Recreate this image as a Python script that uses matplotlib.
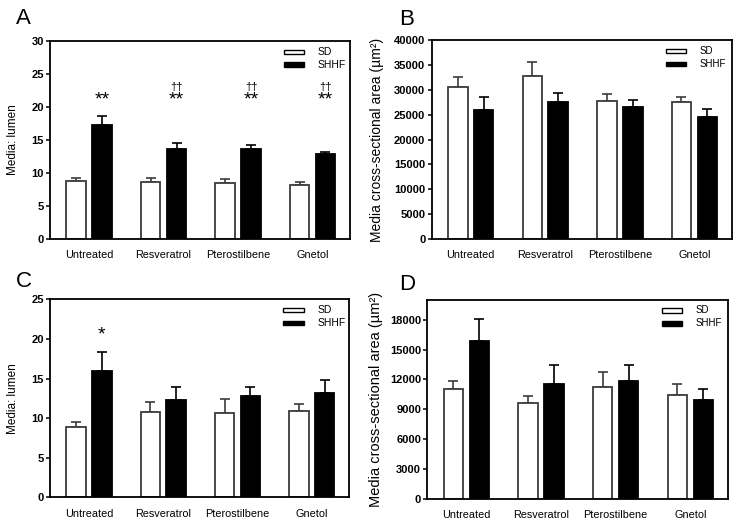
import numpy as np
import matplotlib
matplotlib.use("Agg")
import matplotlib.pyplot as plt
from matplotlib.patches import Rectangle

plt.rcParams['font.family'] = ['Liberation Sans', 'DejaVu Sans']

groups = ["Untreated", "Resveratrol", "Pterostilbene", "Gnetol"]

# panel A - media:lumen
a_sd = [8.8, 8.65, 8.55, 8.25]
a_sd_err = [0.5, 0.65, 0.5, 0.35]
a_shhf = [17.35, 13.7, 13.65, 12.95]
a_shhf_err = [1.25, 0.85, 0.55, 0.3]
a_stars = ["**", "**", "**", "**"]
a_daggers = ["", "††", "††", "††"]

# panel B - media CSA
b_sd = [30500, 32850, 27800, 27500]
b_sd_err = [2000, 2750, 1350, 1000]
b_shhf = [26000, 27600, 26550, 24450]
b_shhf_err = [2600, 1750, 1300, 1700]

# panel C - media:lumen
c_sd = [8.9, 10.75, 10.65, 10.85]
c_sd_err = [0.6, 1.3, 1.75, 0.95]
c_shhf = [15.9, 12.3, 12.75, 13.15]
c_shhf_err = [2.4, 1.7, 1.15, 1.65]
c_stars = ["*", "", "", ""]

# panel D - media CSA
d_sd = [11050, 9650, 11220, 10480]
d_sd_err = [800, 700, 1540, 1070]
d_shhf = [15870, 11550, 11850, 9950]
d_shhf_err = [2240, 1870, 1600, 1100]

w = 0.262
off = 0.174
x = np.arange(len(groups))
gray = '#3c3c3c'

fig = plt.figure(figsize=(7.39, 5.26), dpi=100)


def panel(rect, sd, sde, shhf, shhfe, ylim, yticks, ylabel, labx, lab_fs, leg_fs):
    ax = fig.add_axes(rect)
    ax.bar(x - off, sd, w, color='white', edgecolor=gray, linewidth=1.3, zorder=2)
    ax.bar(x + off, shhf, w, color='black', edgecolor='black', linewidth=1.3, zorder=2)
    ax.errorbar(x - off, sd, yerr=[np.zeros(len(sd)), sde], fmt='none',
                ecolor=gray, elinewidth=1.2, capsize=3.3, capthick=1.2, zorder=1)
    ax.errorbar(x + off, shhf, yerr=[np.zeros(len(shhf)), shhfe], fmt='none',
                ecolor='black', elinewidth=1.2, capsize=3.5, capthick=1.2, zorder=1)
    ax.set_xlim(-0.525, 3.505)
    ax.set_ylim(*ylim)
    ax.set_yticks(yticks)
    ax.set_xticks(x)
    ax.set_xticklabels(groups, fontsize=7.8)
    ax.tick_params(axis='x', length=0, pad=8)
    ax.tick_params(axis='y', length=3, width=1.1, pad=1.5, labelsize=8)
    for t in ax.get_yticklabels():
        t.set_fontweight('bold')
    for s in ax.spines.values():
        s.set_linewidth(1.3)
    ax.set_ylabel(ylabel, fontsize=lab_fs)
    ax.yaxis.set_label_coords(labx, 0.5)
    # legend
    for yy, fc, name in [(0.946, 'white', 'SD'), (0.881, 'black', 'SHHF')]:
        ax.add_patch(Rectangle((0.78, yy - 0.011), 0.068, 0.022, transform=ax.transAxes,
                               facecolor=fc, edgecolor='black', linewidth=1.0, clip_on=False))
        ax.text(0.893, yy, name, transform=ax.transAxes, fontsize=leg_fs, va='center', ha='left')
    return ax


axA = panel([0.0677, 0.5456, 0.406, 0.3764], a_sd, a_sd_err, a_shhf, a_shhf_err,
            (0, 30), np.arange(0, 31, 5), "Media: lumen", -0.105, 8.5, 7.5)
for i in range(len(groups)):
    axA.text(x[i] + off, 21.0, a_stars[i], ha='center', va='center', fontsize=14)
    if a_daggers[i]:
        axA.text(x[i] + off, 23.0, a_daggers[i], ha='center', va='center', fontsize=8)

axB = panel([0.584, 0.5456, 0.4066, 0.3783], b_sd, b_sd_err, b_shhf, b_shhf_err,
            (0, 40000), np.arange(0, 40001, 5000), "Media cross-sectional area (µm²)",
            -0.158, 10, 7)

axC = panel([0.0677, 0.0542, 0.405, 0.3768], c_sd, c_sd_err, c_shhf, c_shhf_err,
            (0, 25), np.arange(0, 26, 5), "Media: lumen", -0.105, 8.5, 7.5)
for i in range(len(groups)):
    if c_stars[i]:
        axC.text(x[i] + off, 20.5, c_stars[i], ha='center', va='center', fontsize=14)

axD = panel([0.5782, 0.0513, 0.4069, 0.3789], d_sd, d_sd_err, d_shhf, d_shhf_err,
            (0, 20000), np.arange(0, 18001, 3000), "Media cross-sectional area (µm²)",
            -0.147, 10.5, 7)

for lab, px, py in [("A", 16, 24), ("B", 399, 25), ("C", 16, 287), ("D", 399, 290)]:
    fig.text(px / 739, 1 - py / 526, lab, fontsize=16, ha='left', va='baseline')

fig.savefig("out.png", dpi=100)
